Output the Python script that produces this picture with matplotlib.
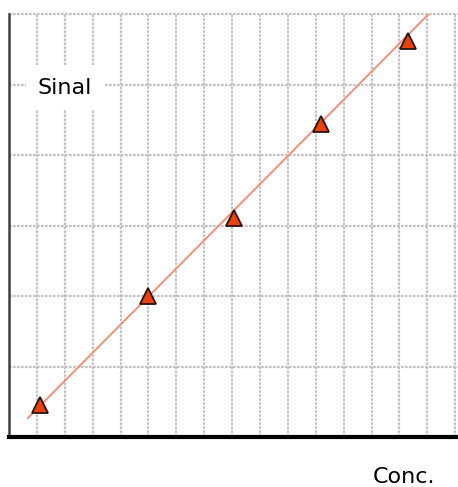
import matplotlib.pyplot as plt

# calibration points
conc = [1.1, 5.0, 8.05, 11.2, 14.3]
signal = [0.46, 2.0, 3.1, 4.44, 5.62]

# calibration line end points
fit_x = [0.68, 15.3]
fit_y = [0.27, 6.1]

fig = plt.figure(figsize=(4.58, 4.87), dpi=100)
ax = fig.add_axes([9 / 458, 50 / 487, 449 / 458, 423 / 487])

ax.set_xlim(0, 16.1)
ax.set_ylim(0, 6)

# fine dotted grid
grid_style = dict(color='#c2c2c2', linestyle=(0, (1.2, 0.6)), linewidth=1.6, zorder=1)
for gx in range(1, 17):
    ax.axvline(gx, **grid_style)
for gy in range(1, 7):
    ax.axhline(gy, clip_on=False, **grid_style)

ax.plot(fit_x, fit_y, color='#f0907a', linewidth=1.4, zorder=3)
ax.plot(conc, signal, linestyle='none', marker='^', markersize=12,
        markerfacecolor='#ea420e', markeredgecolor='#2a1208', markeredgewidth=1.3, zorder=4)

ax.spines['top'].set_visible(False)
ax.spines['right'].set_visible(False)
ax.spines['left'].set_color('#404040')
ax.spines['left'].set_linewidth(1.8)
ax.spines['bottom'].set_color('black')
ax.spines['bottom'].set_linewidth(3)
ax.set_xticks([])
ax.set_yticks([])

fig.text(65 / 458, 1 - 88 / 487, 'Sinal', fontsize=16, ha='center', va='center',
         bbox=dict(facecolor='white', edgecolor='none', boxstyle='square,pad=0.55'), zorder=5)
fig.text(404 / 458, 1 - 477 / 487, 'Conc.', fontsize=16, ha='center', va='center')

fig.savefig('out.png', dpi=100)
